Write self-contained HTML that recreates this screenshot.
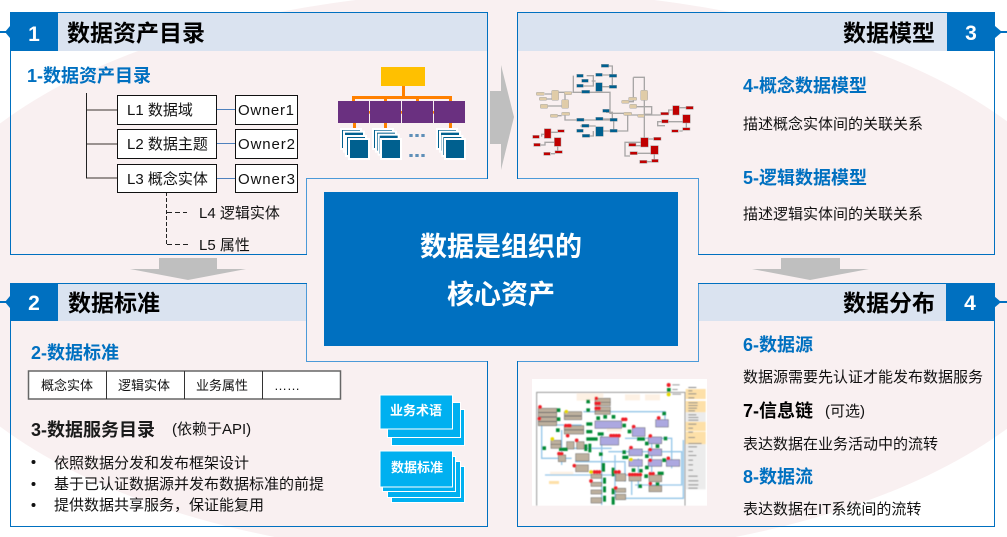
<!DOCTYPE html>
<html><head><meta charset="utf-8"><style>
html,body{margin:0;padding:0;background:#fff;width:1007px;height:537px;overflow:hidden}
svg{display:block}
text{font-family:"Liberation Sans","Noto Sans CJK SC",sans-serif;fill:#111}
.t{font-size:23px;font-weight:700;fill:#000}
.n{font-size:21px;font-weight:700;fill:#fff;text-anchor:middle}
.h{font-size:18px;font-weight:700;fill:#0070c0}
.k{font-size:18px;font-weight:700;fill:#1a1a1a}
.b{font-size:15px}
.s{font-size:15px}
.w{font-size:13px;font-weight:700;fill:#fff}
.c{font-size:27px;font-weight:700;fill:#fff;text-anchor:middle}
</style></head><body>
<svg width="1007" height="537" viewBox="0 0 1007 537" xmlns="http://www.w3.org/2000/svg">
<defs>
<filter id="bl" x="-5%" y="-5%" width="110%" height="110%"><feGaussianBlur stdDeviation="1.200"/></filter>
<filter id="bm" x="-5%" y="-5%" width="110%" height="110%"><feGaussianBlur stdDeviation="1"/></filter>
</defs>
<ellipse cx="505" cy="275" rx="597" ry="284" fill="#f9f0f1"/>

<!-- arrows -->
<g fill="#bfbfbf">
<path d="M490 91H501V65L514 117L501 170V144H490Z"/>
<path d="M159 258H217V269H246L188 280L130 269H159Z"/>
<path d="M781 258H840V269H869L810 280L752 269H781Z"/>
</g>

<!-- header fills -->
<g fill="#dae3f0">
<rect x="58" y="13" width="429" height="38"/>
<rect x="518" y="13" width="429" height="38"/>
<rect x="58" y="284" width="248" height="37"/>
<rect x="699" y="284" width="248" height="37"/>
</g>

<!-- panels -->
<g fill="none" stroke="#0070c0" stroke-width="1">
<path d="M10.5 12.5H487.5V178.5H306.5V254.5H10.5Z"/>
<path d="M517.5 12.5H994.5V254.5H698.5V178.5H517.5Z"/>
<path d="M10.5 283.5H306.5V361.5H487.5V526.5H10.5Z"/>
<path d="M698.5 283.5H994.5V526.5H517.5V361.5H698.5Z"/>
</g>
<g fill="none" stroke="#4c9ad8" stroke-width="1">
<path d="M487 178.5H306.5V254"/>
<path d="M698.5 254V178.5H518"/>
<path d="M306.5 284V361.5H487"/>
<path d="M698.5 284V361.5H518"/>
</g>

<!-- number tabs -->
<g fill="#0070c0">
<rect x="10" y="12" width="48" height="39"/>
<rect x="947" y="12" width="48" height="39"/>
<rect x="10" y="283" width="48" height="38"/>
<rect x="946" y="283" width="48" height="38"/>
<rect x="0" y="31" width="7" height="2"/><path d="M5 32L10 26V38Z"/>
<rect x="0" y="301" width="7" height="2"/><path d="M5 302L10 296V308Z"/>
<rect x="1000" y="31" width="7" height="2"/><path d="M1002 32L995 26V38Z"/>
<rect x="1000" y="301" width="7" height="2"/><path d="M1001 302L994 296V308Z"/>
</g>
<text class="n" x="34" y="41">1</text>
<text class="n" x="971" y="40">3</text>
<text class="n" x="34" y="310">2</text>
<text class="n" x="970" y="310">4</text>

<text class="t" x="67" y="41">数据资产目录</text>
<text class="t" x="843" y="41">数据模型</text>
<text class="t" x="68" y="311">数据标准</text>
<text class="t" x="843" y="311">数据分布</text>

<!-- center -->
<rect x="324" y="192" width="354" height="154" fill="#0070c0"/>
<text class="c" x="501" y="256">数据是组织的</text>
<text class="c" x="501" y="304">核心资产</text>

<!-- panel 1 -->
<text class="h" x="27" y="82">1-数据资产目录</text>
<g fill="none">
<path d="M86.500 93V178.500" stroke="#222" stroke-width="1"/>
<path d="M87 110H117M87 144H117M87 178H117" stroke="#7a7270" stroke-width="1.600"/>
<path d="M216 109.500H235M216 143.500H235M216 178.500H235" stroke="#4f81bd" stroke-width="1"/>
<path d="M166.500 192V244.500" stroke="#222" stroke-width="1" stroke-dasharray="4 2"/>
<path d="M167 212.500H187M167 244.500H190" stroke="#222" stroke-width="1" stroke-dasharray="5 3"/>
</g>
<g fill="#fff" stroke="#111" stroke-width="1">
<rect x="117.500" y="95.500" width="99" height="29"/>
<rect x="117.500" y="129.500" width="99" height="29"/>
<rect x="117.500" y="164.500" width="99" height="28"/>
<rect x="235.500" y="95.500" width="62" height="29"/>
<rect x="235.500" y="129.500" width="62" height="29"/>
<rect x="235.500" y="164.500" width="62" height="28"/>
</g>
<text class="b" x="127" y="115">L1 数据域</text>
<text class="b" x="127" y="149">L2 数据主题</text>
<text class="b" x="127" y="184">L3 概念实体</text>
<text class="b" x="238" y="115" textLength="56">Owner1</text>
<text class="b" x="238" y="149" textLength="57">Owner2</text>
<text class="b" x="238" y="184" textLength="57">Owner3</text>
<text class="b" x="199" y="218">L4 逻辑实体</text>
<text class="b" x="199" y="250">L5 属性</text>

<!-- org chart -->
<g transform="translate(330 60) scale(.33333)">
<rect x="153" y="21" width="132" height="57" fill="#ffc000"/>
<g fill="#ff8000">
<rect x="216" y="78" width="9" height="30"/>
<rect x="66" y="108" width="300" height="9"/>
<rect x="66" y="108" width="9" height="15"/>
<rect x="162" y="108" width="9" height="15"/>
<rect x="258" y="108" width="9" height="15"/>
<rect x="357" y="108" width="9" height="15"/>
<rect x="24" y="153" width="380" height="8"/>
<rect x="69" y="189" width="9" height="18"/>
<rect x="162" y="189" width="9" height="18"/>
<rect x="357" y="189" width="9" height="18"/>
</g>
<g fill="#6a3080">
<rect x="24" y="123" width="93" height="66"/>
<rect x="120" y="123" width="93" height="66"/>
<rect x="216" y="123" width="93" height="66"/>
<rect x="312" y="123" width="93" height="66"/>
</g>
<g fill="#00608f" stroke="#fff" stroke-width="6">
<rect x="33" y="207" width="60" height="60"/><rect x="42" y="215" width="60" height="60"/><rect x="48" y="228" width="60" height="60"/><rect x="57" y="237" width="60" height="60"/>
<rect x="129" y="207" width="60" height="60"/><rect x="138" y="215" width="60" height="60"/><rect x="146" y="224" width="60" height="60"/><rect x="153" y="237" width="60" height="60"/>
<rect x="321" y="207" width="60" height="60"/><rect x="330" y="215" width="60" height="60"/><rect x="337" y="228" width="60" height="60"/><rect x="345" y="237" width="60" height="60"/>
</g>
<g fill="#5f8fb8">
<rect x="238" y="222" width="10" height="9"/><rect x="256" y="222" width="10" height="9"/><rect x="274" y="222" width="10" height="9"/>
<rect x="238" y="282" width="10" height="9"/><rect x="256" y="282" width="10" height="9"/><rect x="274" y="282" width="10" height="9"/>
</g>
</g>

<!-- panel 3 text -->
<text class="h" x="743" y="92">4-概念数据模型</text>
<text class="b" x="743" y="129">描述概念实体间的关联关系</text>
<text class="h" x="743" y="184">5-逻辑数据模型</text>
<text class="b" x="743" y="219">描述逻辑实体间的关联关系</text>

<!-- model network -->
<g transform="translate(525 55) scale(.33333)" filter="url(#bm)">
<g fill="none" stroke="#a8a6a6" stroke-width="4">
<path d="M251 33H262V62M232 60H253M262 67V95M232 95H253M185 62H205V95M200 78H212M175 93H205M145 62V112H255V175H300M142 112H80M120 135V112M60 117H80M65 132H80M68 153H110M98 182H110M120 181V195H155M177 195H255M234 192H255M266 199V223M234 228H255M166 213H212M177 243H205V228M155 228H170M277 228H308V180M243 172H262V195M325 67H358V106M325 67V128M358 136V248M300 140H325V128M323 155H380V178H358M300 180H407M431 176V165H443M420 200H398V212H420M430 200H473M484 204V218M463 228H473M463 158H483M58 238H50V245M36 270H60V262H88M98 275V287M78 296H90M78 232H98M347 262H300V303H315M333 295H377M366 320H380M388 298V313M370 252H386M360 272H320"/>
</g>
<g fill="#e0cca8" stroke="#aaa" stroke-width="1.500">
<rect x="34" y="112" width="24" height="9" rx="2"/><rect x="43" y="127" width="22" height="9" rx="2"/><rect x="46" y="148" width="22" height="12" rx="2"/><rect x="80" y="106" width="21" height="30" rx="3"/><rect x="110" y="134" width="21" height="26" rx="3"/><rect x="118" y="110" width="22" height="9" rx="2"/><rect x="76" y="178" width="22" height="9" rx="2"/><rect x="110" y="172" width="24" height="9" rx="2"/><rect x="347" y="106" width="21" height="30" rx="3"/><rect x="290" y="136" width="22" height="9" rx="2"/><rect x="311" y="127" width="24" height="9" rx="2"/><rect x="314" y="148" width="21" height="12" rx="2"/><rect x="296" y="172" width="24" height="9" rx="2"/><rect x="338" y="178" width="20" height="9" rx="2"/>
</g>
<g fill="#00608f" stroke="#999" stroke-width="1">
<rect x="229" y="28" width="22" height="9"/><rect x="212" y="55" width="20" height="9"/><rect x="253" y="58" width="22" height="9"/><rect x="155" y="58" width="20" height="9"/><rect x="170" y="73" width="20" height="9"/><rect x="155" y="88" width="20" height="9"/><rect x="170" y="106" width="24" height="9"/><rect x="212" y="83" width="20" height="26"/><rect x="253" y="91" width="22" height="9"/><rect x="233" y="163" width="20" height="9"/><rect x="212" y="187" width="22" height="9"/><rect x="255" y="190" width="22" height="9"/><rect x="155" y="190" width="22" height="9"/><rect x="170" y="208" width="22" height="9"/><rect x="155" y="223" width="20" height="9"/><rect x="172" y="238" width="22" height="9"/><rect x="212" y="215" width="23" height="29"/><rect x="255" y="223" width="22" height="9"/>
</g>
<g fill="#c00000" stroke="#aaa" stroke-width="1.500">
<rect x="23" y="241" width="20" height="9"/><rect x="26" y="265" width="20" height="9"/><rect x="58" y="221" width="20" height="29"/><rect x="98" y="224" width="20" height="8"/><rect x="88" y="248" width="20" height="26"/><rect x="56" y="292" width="20" height="9"/><rect x="90" y="287" width="22" height="8"/><rect x="443" y="152" width="20" height="28"/><rect x="483" y="154" width="22" height="9"/><rect x="473" y="179" width="23" height="25"/><rect x="407" y="172" width="24" height="8"/><rect x="410" y="194" width="20" height="10"/><rect x="440" y="224" width="20" height="8"/><rect x="473" y="218" width="22" height="8"/><rect x="347" y="248" width="23" height="28"/><rect x="386" y="247" width="22" height="9"/><rect x="377" y="272" width="23" height="26"/><rect x="311" y="265" width="22" height="9"/><rect x="315" y="290" width="22" height="9"/><rect x="344" y="316" width="22" height="9"/><rect x="380" y="313" width="20" height="9"/>
</g>
</g>

<!-- panel 2 -->
<text class="h" x="31" y="359">2-数据标准</text>
<g fill="#fff" stroke="#666" stroke-width="1.500">
<rect x="28.500" y="371" width="312" height="28"/>
</g>
<path d="M106.500 371V399M184.500 371V399M262.500 371V399" stroke="#333" stroke-width="1"/>
<text x="41" y="390" font-size="13">概念实体</text>
<text x="118" y="390" font-size="13">逻辑实体</text>
<text x="196" y="390" font-size="13">业务属性</text>
<text x="274" y="390" font-size="13">……</text>
<text class="k" x="31" y="436">3-数据服务目录</text>
<text class="s" x="172" y="434">(依赖于API)</text>
<g fill="#111"><circle cx="33.500" cy="462" r="2"/><circle cx="33.500" cy="484" r="2"/><circle cx="33.500" cy="505" r="2"/></g>
<text class="b" x="54" y="468">依照数据分发和发布框架设计</text>
<text class="b" x="54" y="489">基于已认证数据源并发布数据标准的前提</text>
<text class="b" x="54" y="510">提供数据共享服务，保证能复用</text>

<g fill="#00b0f0" stroke="#fff" stroke-width="1">
<rect x="391.500" y="409.500" width="73" height="36"/>
<rect x="387.500" y="402.500" width="73" height="35"/>
<rect x="380" y="395" width="72.500" height="34"/>
<rect x="391.500" y="466.500" width="73" height="36"/>
<rect x="387.500" y="461.500" width="73" height="36"/>
<rect x="382.500" y="456.500" width="73" height="35"/>
<rect x="380" y="451" width="72.500" height="36"/>
</g>
<text class="w" x="390" y="415">业务术语</text>
<text class="w" x="391" y="472">数据标准</text>

<!-- panel 4 text -->
<text class="h" x="743" y="351">6-数据源</text>
<text class="b" x="743" y="382">数据源需要先认证才能发布数据服务</text>
<text class="k" x="743" y="417" style="fill:#000">7-信息链</text>
<text class="s" x="825" y="416">(可选)</text>
<text class="b" x="743" y="449">表达数据在业务活动中的流转</text>
<text class="h" x="743" y="483">8-数据流</text>
<text class="b" x="743" y="514">表达数据在IT系统间的流转</text>

<!-- distribution map -->
<rect x="532" y="379" width="175" height="126.700" fill="#fff"/>
<g transform="translate(525 375) scale(.33333)" filter="url(#bl)">
<path d="M35 392V52H480V392" fill="none" stroke="#999" stroke-width="3"/>
<g fill="#fdf1e4">
<rect x="155" y="55" width="80" height="22"/><rect x="300" y="58" width="45" height="18"/><rect x="360" y="58" width="45" height="18"/><rect x="245" y="140" width="45" height="30"/>
<rect x="75" y="290" width="70" height="12"/>
</g>
<g fill="#fde0a8">
<rect x="482" y="42" width="60" height="30"/><rect x="482" y="78" width="60" height="34"/><rect x="482" y="140" width="60" height="28"/><rect x="482" y="170" width="60" height="38"/>
<rect x="72" y="318" width="30" height="9"/>
</g>
<rect x="482" y="208" width="60" height="135" fill="#ececec"/>
<rect x="482" y="112" width="60" height="28" fill="#ececec"/>
<g fill="none" stroke="#94c6e8" stroke-width="4">
<path d="M50 150V250H140M50 150H170M175 110H420V150M110 165V270M230 180V390M250 230H470V330H330M300 190H440V280M270 240V370M150 260H300V320M380 195V300M60 300H230M300 370H475V195M200 300H320V360M340 250V340M120 220H260"/>
</g>
<g fill="#bdb09e" stroke="#555" stroke-width="1.500">
<rect x="40" y="100" width="55" height="12"/><rect x="40" y="113" width="55" height="12"/><rect x="40" y="127" width="55" height="12"/><rect x="40" y="140" width="55" height="12"/>
<rect x="118" y="110" width="52" height="12"/><rect x="118" y="124" width="52" height="10"/>
<rect x="118" y="152" width="58" height="12"/><rect x="118" y="165" width="58" height="12"/>
<rect x="210" y="70" width="46" height="12"/><rect x="210" y="82" width="46" height="10"/><rect x="210" y="96" width="46" height="12"/><rect x="210" y="108" width="46" height="10"/>
<rect x="78" y="196" width="30" height="12"/><rect x="78" y="208" width="30" height="12"/>
<rect x="125" y="200" width="22" height="22"/><rect x="155" y="200" width="22" height="22"/>
<rect x="152" y="236" width="40" height="22"/><rect x="100" y="240" width="22" height="20"/>
<rect x="152" y="270" width="38" height="20"/>
<rect x="198" y="298" width="32" height="12"/><rect x="198" y="322" width="32" height="12"/><rect x="198" y="345" width="32" height="12"/><rect x="198" y="368" width="32" height="16"/>
<rect x="272" y="296" width="30" height="22"/><rect x="272" y="340" width="30" height="12"/><rect x="272" y="358" width="30" height="16"/>
<rect x="312" y="298" width="36" height="20"/><rect x="372" y="300" width="38" height="20"/><rect x="372" y="332" width="38" height="18"/>
</g>
<g fill="#aca8e0" stroke="#555" stroke-width="1.500">
<rect x="210" y="138" width="80" height="22"/><rect x="226" y="186" width="55" height="24"/><rect x="322" y="158" width="38" height="26"/><rect x="392" y="134" width="38" height="22"/>
<rect x="312" y="222" width="40" height="20"/><rect x="370" y="186" width="40" height="20"/><rect x="370" y="222" width="40" height="20"/><rect x="312" y="254" width="40" height="20"/><rect x="370" y="254" width="40" height="20"/><rect x="424" y="254" width="40" height="20"/>
</g>
<g fill="#008a36">
<rect x="184" y="74" width="11" height="11"/><rect x="184" y="100" width="11" height="11"/><rect x="95" y="100" width="11" height="11"/><rect x="95" y="127" width="11" height="11"/><rect x="93" y="160" width="11" height="11"/><rect x="52" y="214" width="11" height="11"/><rect x="214" y="124" width="11" height="11"/><rect x="235" y="120" width="11" height="11"/><rect x="260" y="120" width="11" height="11"/>
<rect x="184" y="142" width="18" height="10"/><rect x="184" y="165" width="18" height="10"/><rect x="184" y="187" width="34" height="10"/><rect x="218" y="172" width="18" height="10"/>
<rect x="102" y="218" width="26" height="10"/><rect x="178" y="208" width="9" height="20"/><rect x="190" y="206" width="9" height="26"/><rect x="222" y="232" width="11" height="11"/><rect x="230" y="264" width="10" height="26"/>
<rect x="292" y="146" width="11" height="11"/><rect x="308" y="164" width="11" height="11"/><rect x="336" y="187" width="24" height="10"/><rect x="292" y="226" width="11" height="11"/><rect x="292" y="242" width="18" height="10"/><rect x="360" y="200" width="11" height="11"/><rect x="360" y="238" width="11" height="11"/><rect x="392" y="208" width="11" height="11"/><rect x="412" y="110" width="11" height="11"/><rect x="416" y="185" width="11" height="11"/><rect x="412" y="250" width="11" height="11"/><rect x="360" y="272" width="11" height="11"/><rect x="342" y="282" width="11" height="11"/><rect x="320" y="280" width="11" height="11"/><rect x="260" y="278" width="9" height="26"/><rect x="398" y="290" width="18" height="10"/><rect x="358" y="298" width="11" height="11"/><rect x="340" y="328" width="11" height="11"/><rect x="392" y="322" width="11" height="11"/><rect x="234" y="308" width="9" height="18"/><rect x="234" y="334" width="9" height="18"/><rect x="234" y="362" width="9" height="18"/><rect x="260" y="340" width="9" height="18"/><rect x="260" y="365" width="9" height="24"/>
<rect x="426" y="39" width="11" height="11"/>
</g>
<g fill="#ef1c25">
<circle cx="431" cy="30" r="6"/><circle cx="45" cy="96" r="5.500"/><circle cx="43" cy="131" r="5.500"/><circle cx="214" cy="70" r="5.500"/><circle cx="214" cy="85" r="5.500"/><circle cx="222" cy="85" r="5.500"/><circle cx="214" cy="100" r="5.500"/><circle cx="222" cy="100" r="5.500"/>
<circle cx="122" cy="152" r="5.500"/><circle cx="130" cy="152" r="5.500"/><circle cx="135" cy="152" r="5.500"/><circle cx="128" cy="182" r="5.500"/><circle cx="155" cy="196" r="5.500"/>
<circle cx="294" cy="133" r="5.500"/><circle cx="302" cy="133" r="5.500"/><circle cx="326" cy="155" r="5.500"/><circle cx="401" cy="129" r="5.500"/>
<circle cx="258" cy="182" r="5.500"/><circle cx="266" cy="182" r="5.500"/><circle cx="274" cy="182" r="5.500"/><circle cx="282" cy="182" r="5.500"/>
<circle cx="376" cy="183" r="5.500"/><circle cx="318" cy="218" r="5.500"/><circle cx="376" cy="224" r="5.500"/><circle cx="376" cy="256" r="5.500"/><circle cx="430" cy="250" r="5.500"/>
<circle cx="102" cy="236" r="5.500"/><circle cx="110" cy="236" r="5.500"/><circle cx="148" cy="272" r="5.500"/><circle cx="208" cy="291" r="5.500"/><circle cx="216" cy="291" r="5.500"/><circle cx="224" cy="291" r="5.500"/><circle cx="198" cy="318" r="5.500"/>
<circle cx="272" cy="291" r="5.500"/><circle cx="282" cy="291" r="5.500"/><circle cx="272" cy="339" r="5.500"/>
<circle cx="314" cy="299" r="5.500"/><circle cx="322" cy="299" r="5.500"/><circle cx="330" cy="299" r="5.500"/><circle cx="338" cy="299" r="5.500"/><circle cx="346" cy="299" r="5.500"/><circle cx="376" cy="296" r="5.500"/><circle cx="384" cy="296" r="5.500"/><circle cx="376" cy="326" r="5.500"/>
</g>
<g fill="#e6d800">
<circle cx="431" cy="58" r="6"/><circle cx="124" cy="110" r="5.500"/><circle cx="82" cy="192" r="5.500"/><circle cx="198" cy="291" r="5.500"/><circle cx="318" cy="254" r="5.500"/>
</g>
<g fill="#999"><rect x="442" y="28" width="22" height="3"/><rect x="442" y="42" width="16" height="3"/><rect x="442" y="56" width="26" height="3"/></g>
<g fill="#888">
<rect x="490" y="36" width="24" height="3"/><rect x="490" y="46" width="12" height="3"/><rect x="490" y="55" width="24" height="3"/><rect x="490" y="67" width="18" height="3"/><rect x="490" y="82" width="28" height="3"/><rect x="490" y="90" width="28" height="3"/><rect x="490" y="98" width="26" height="3"/><rect x="490" y="106" width="20" height="3"/><rect x="490" y="118" width="24" height="3"/><rect x="490" y="126" width="30" height="3"/><rect x="490" y="134" width="30" height="3"/><rect x="490" y="146" width="24" height="3"/><rect x="490" y="158" width="14" height="3"/><rect x="490" y="170" width="14" height="3"/><rect x="490" y="186" width="20" height="3"/><rect x="490" y="204" width="40" height="3"/><rect x="490" y="214" width="26" height="3"/><rect x="490" y="228" width="14" height="3"/><rect x="490" y="240" width="24" height="3"/><rect x="490" y="254" width="14" height="3"/><rect x="490" y="268" width="14" height="3"/><rect x="490" y="284" width="14" height="3"/><rect x="490" y="302" width="28" height="3"/><rect x="490" y="316" width="30" height="3"/><rect x="490" y="328" width="30" height="3"/><rect x="490" y="338" width="28" height="3"/>
</g>
</g>
</svg>
</body></html>
